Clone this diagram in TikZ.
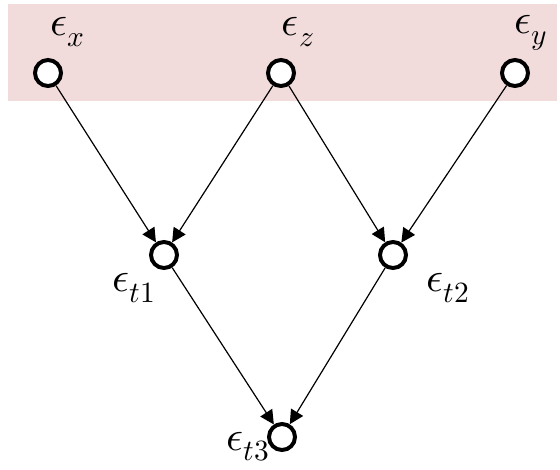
\documentclass[tikz,border=0pt]{standalone}
\usepackage{unicode-math}
\usetikzlibrary{arrows.meta}
\definecolor{band}{RGB}{242,220,219}
\begin{document}
\begin{tikzpicture}[x=1pt,y=-1pt,
  var/.style={circle,draw,line width=4pt,fill=white,minimum size=26pt,inner sep=0pt},
  lab/.style={font=\fontsize{42}{44}\selectfont,inner sep=1pt},
  edge/.style={line width=1.2pt,-{Triangle[length=14pt,width=14pt]}}]
\useasboundingbox (0,0) rectangle (560,469);
\fill[band] (8,4) rectangle (557,101);
\node[var] (x) at (48,73) {};
\node[var] (z) at (281,73) {};
\node[var] (y) at (515,73) {};
\node[var] (t1) at (164,255) {};
\node[var] (t2) at (393,255) {};
\node[var] (t3) at (282,437) {};
\node[lab] (lx) at (68,32) {$\epsilon_x$};
\node[lab] (lz) at (298,32) {$\epsilon_z$};
\node[lab] (ly) at (531,33) {$\epsilon_y$};
\node[lab] (l1) at (134,288) {$\epsilon_{t1}$};
\node[lab] (l2) at (448,288) {$\epsilon_{t2}$};
\node[lab] (l3) at (248,447) {$\epsilon_{t3}$};
\draw[edge] (x) -- (t1);
\draw[edge] (z) -- (t1);
\draw[edge] (z) -- (t2);
\draw[edge] (y) -- (t2);
\draw[edge] (t1) -- (t3);
\draw[edge] (t2) -- (t3);
\end{tikzpicture}
\end{document}
